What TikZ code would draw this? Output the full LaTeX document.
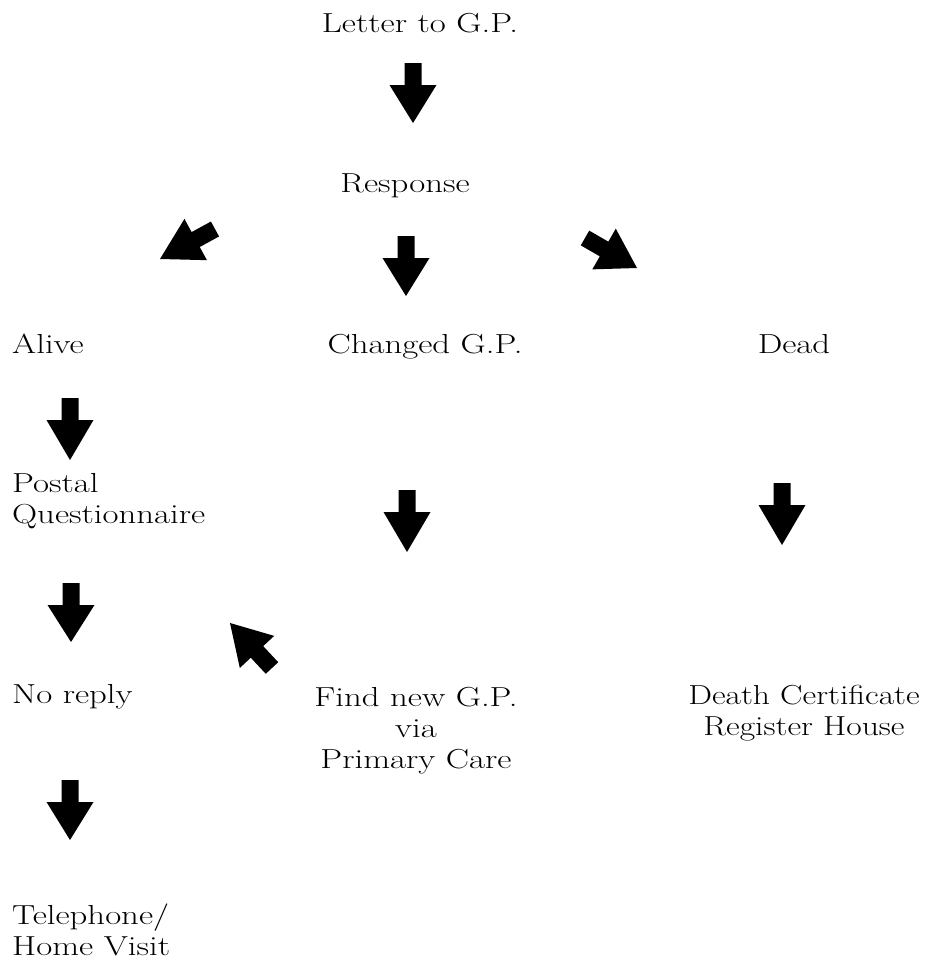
\documentclass[tikz,border=0pt]{standalone}
\usepackage{fontspec}
\usepackage{graphicx}
\usetikzlibrary{calc}
\newcommand\blockarr[2]{%
  \coordinate (hb) at ($(#1)!22pt!(#2)$);
  \fill[black] ($(#1)!8.5pt!90:(#2)$) -- ($(hb)!8.5pt!90:(#2)$) -- ($(hb)!23.5pt!90:(#2)$)
    -- (#2) -- ($(hb)!23.5pt!-90:(#2)$) -- ($(hb)!8.5pt!-90:(#2)$) -- ($(#1)!8.5pt!-90:(#2)$) -- cycle;}
\newcommand\wt[1]{\scalebox{1.265}[1]{#1}}
\tikzset{lbl/.style={inner sep=0pt, anchor=base},
         lblw/.style={inner sep=0pt, anchor=base west}}
\begin{document}
\begin{tikzpicture}[x=1pt,y=1pt,
  font=\fontsize{27.5}{31}\selectfont]
\fill[white] (0,0) rectangle (927,-964);
\useasboundingbox (0,0) rectangle (927,-964);
% labels
\node[lbl] (letter) at (420,-32) {\wt{Letter to G.P.}};
\node[lbl] (response) at (405,-192) {\wt{Response}};
\node[lblw] (alive) at (12,-353) {\wt{Alive}};
\node[lbl] (changed) at (425,-353) {\wt{Changed G.P.}};
\node[lbl] (dead) at (794,-353) {\wt{Dead}};
\node[lblw] (postal) at (12,-492) {\wt{\begin{tabular}[t]{@{}l@{}}Postal\\Questionnaire\end{tabular}}};
\node[lblw] (noreply) at (12,-703) {\wt{No reply}};
\node[lbl] (findgp) at (416,-706) {\wt{\begin{tabular}[t]{@{}c@{}}Find new G.P.\\via\\Primary Care\end{tabular}}};
\node[lbl] (death) at (804,-704) {\scalebox{1.22}[1]{\begin{tabular}[t]{@{}c@{}}Death Certificate\\Register House\end{tabular}}};
\node[lblw] (phone) at (12,-924) {\wt{\begin{tabular}[t]{@{}l@{}}Telephone/\\Home Visit\end{tabular}}};
% arrow end points
\coordinate (a1t) at (413,-63);   \coordinate (a1h) at (413,-123);
\coordinate (a2t) at (215,-229);  \coordinate (a2h) at (160,-259);
\coordinate (a3t) at (406,-236);  \coordinate (a3h) at (406,-296);
\coordinate (a4t) at (585,-238);  \coordinate (a4h) at (637,-268);
\coordinate (a5t) at (70,-398);   \coordinate (a5h) at (70,-460);
\coordinate (a6t) at (407,-490);  \coordinate (a6h) at (407,-552);
\coordinate (a7t) at (782,-483);  \coordinate (a7h) at (782,-545);
\coordinate (a8t) at (71,-583);   \coordinate (a8h) at (71,-642);
\coordinate (a9t) at (272,-668);  \coordinate (a9h) at (230,-623);
\coordinate (a10t) at (70,-780);  \coordinate (a10h) at (70,-840);
\blockarr{a1t}{a1h}
\blockarr{a2t}{a2h}
\blockarr{a3t}{a3h}
\blockarr{a4t}{a4h}
\blockarr{a5t}{a5h}
\blockarr{a6t}{a6h}
\blockarr{a7t}{a7h}
\blockarr{a8t}{a8h}
\blockarr{a9t}{a9h}
\blockarr{a10t}{a10h}
\end{tikzpicture}
\end{document}
